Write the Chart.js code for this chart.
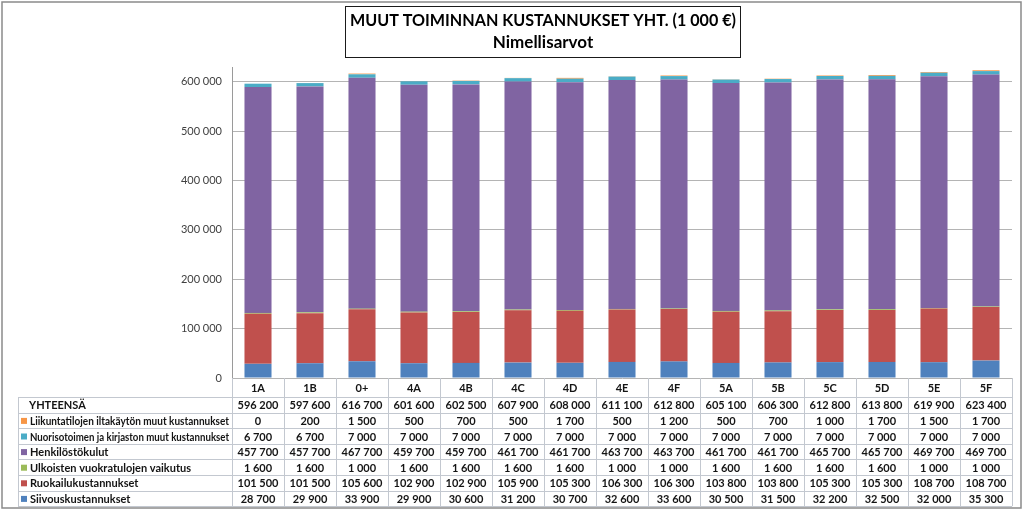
<!DOCTYPE html>
<html>
<head>
<meta charset="utf-8">
<script src="https://cdn.jsdelivr.net/npm/chart.js@4.4.1/dist/chart.umd.min.js"></script>
<style>
  html, body { margin: 0; padding: 0; background: #fff; }
  #wrap { width: 1024px; height: 514px; }
</style>
</head>
<body>
<div id="wrap"><canvas id="myChart" width="1024" height="514"></canvas></div>
<script>
const categories = ['1A', '1B', '0+', '4A', '4B', '4C', '4D', '4E', '4F', '5A', '5B', '5C', '5D', '5E', '5F'];
const siivous = [28700, 29900, 33900, 29900, 30600, 31200, 30700, 32600, 33600, 30500, 31500, 32200, 32500, 32000, 35300];
const ruokailu = [101500, 101500, 105600, 102900, 102900, 105900, 105300, 106300, 106300, 103800, 103800, 105300, 105300, 108700, 108700];
const ulkoiset = [1600, 1600, 1000, 1600, 1600, 1600, 1600, 1000, 1000, 1600, 1600, 1600, 1600, 1000, 1000];
const henkilosto = [457700, 457700, 467700, 459700, 459700, 461700, 461700, 463700, 463700, 461700, 461700, 465700, 465700, 469700, 469700];
const nuoriso = [6700, 6700, 7000, 7000, 7000, 7000, 7000, 7000, 7000, 7000, 7000, 7000, 7000, 7000, 7000];
const liikunta = [0, 200, 1500, 500, 700, 500, 1700, 500, 1200, 500, 700, 1000, 1700, 1500, 1700];
const yhteensa = [596200, 597600, 616700, 601600, 602500, 607900, 608000, 611100, 612800, 605100, 606300, 612800, 613800, 619900, 623400];
const yTicks = [0, 100000, 200000, 300000, 400000, 500000, 600000];

const titleLines = ['MUUT TOIMINNAN KUSTANNUKSET YHT. (1 000 €)', 'Nimellisarvot'];

function fmt(n) {
    return String(n).replace(/\B(?=(\d{3})+(?!\d))/g, ' ');
}

// title box, frame and data table under the plot
const tablePlugin = {
    id: 'tablePlugin',
    afterDraw(chart) {
        const ctx = chart.ctx;
        const x = chart.scales.x;
        const area = chart.chartArea;
        ctx.save();

        // outer frame
        ctx.strokeStyle = '#8a8a8a';
        ctx.lineWidth = 1.5;
        ctx.strokeRect(2, 2, 1019, 506);

        // title
        ctx.fillStyle = '#fff';
        ctx.fillRect(345, 6, 396, 52);
        ctx.strokeStyle = '#1a1a1a';
        ctx.lineWidth = 1;
        ctx.strokeRect(345.5, 6.5, 395, 51);
        ctx.fillStyle = '#000';
        ctx.font = 'bold 17px Lato';
        ctx.textAlign = 'center';
        ctx.textBaseline = 'middle';
        ctx.fillText(titleLines[0], 543, 21, 386);
        ctx.fillText(titleLines[1], 543, 43);

        // table
        const colW = (area.right - area.left) / categories.length;
        const top = area.bottom;
        const headH = 19;
        const rowH = 15.6;
        const tableLeft = 18;
        const rows = [{ label: 'YHTEENSÄ', data: yhteensa, color: null }];
        chart.data.datasets.slice().reverse().forEach(ds => {
            rows.push({ label: ds.label, data: ds.data, color: ds.backgroundColor });
        });
        const bottom = top + headH + rowH * rows.length;

        ctx.strokeStyle = '#c3c8d0';
        ctx.lineWidth = 1;
        ctx.beginPath();
        for (let i = 0; i <= categories.length; i++) {
            const px = Math.round(area.left + i * colW) + 0.5;
            ctx.moveTo(px, top);
            ctx.lineTo(px, bottom);
        }
        ctx.moveTo(tableLeft + 0.5, top + headH);
        ctx.lineTo(tableLeft + 0.5, bottom);
        for (let r = 0; r <= rows.length; r++) {
            const py = Math.round(top + headH + r * rowH) + 0.5;
            ctx.moveTo(tableLeft, py);
            ctx.lineTo(area.right, py);
        }
        ctx.stroke();

        ctx.fillStyle = '#141414';
        ctx.font = 'bold 11px Lato';
        ctx.textAlign = 'center';
        categories.forEach((c, i) => {
            ctx.fillText(c, x.getPixelForValue(i), top + headH / 2 + 1);
        });

        rows.forEach((row, r) => {
            const cy = top + headH + r * rowH + rowH / 2 + 1;
            if (row.color) {
                ctx.fillStyle = row.color;
                ctx.fillRect(21, cy - 3.5, 6, 6);
            }
            ctx.fillStyle = '#141414';
            ctx.textAlign = 'left';
            ctx.fillText(row.label, row.color ? 30 : 29, cy, 199);
            ctx.textAlign = 'center';
            row.data.forEach((v, i) => {
                ctx.fillText(fmt(v), x.getPixelForValue(i), cy, colW - 10);
            });
        });

        ctx.restore();
    }
};

const ctx = document.getElementById('myChart').getContext('2d');
new Chart(ctx, {
    type: 'bar',
    data: {
        labels: categories,
        datasets: [
            { label: 'Siivouskustannukset', data: siivous, backgroundColor: '#4f81bd' },
            { label: 'Ruokailukustannukset', data: ruokailu, backgroundColor: '#c0504d' },
            { label: 'Ulkoisten vuokratulojen vaikutus', data: ulkoiset, backgroundColor: '#9bbb59' },
            { label: 'Henkilöstökulut', data: henkilosto, backgroundColor: '#8064a2' },
            { label: 'Nuorisotoimen ja kirjaston muut kustannukset', data: nuoriso, backgroundColor: '#4bacc6' },
            { label: 'Liikuntatilojen iltakäytön muut kustannukset', data: liikunta, backgroundColor: '#f79646' }
        ]
    },
    options: {
        responsive: false,
        animation: false,
        layout: { padding: { left: 0, right: 12, top: 67, bottom: 136 } },
        categoryPercentage: 1,
        barPercentage: 0.52,
        plugins: {
            legend: { display: false },
            tooltip: { enabled: false },
            title: { display: false }
        },
        scales: {
            x: {
                stacked: true,
                display: false
            },
            y: {
                stacked: true,
                min: 0,
                max: 630000,
                afterFit(scale) { scale.width = 232; },
                afterBuildTicks(scale) { scale.ticks = yTicks.map(v => ({ value: v })); },
                grid: { color: '#b4b4b4', drawTicks: false },
                border: { color: '#9a9a9a' },
                ticks: {
                    padding: 10,
                    color: '#404040',
                    font: { family: 'Lato', size: 11 },
                    callback: v => fmt(v)
                }
            }
        }
    },
    plugins: [tablePlugin]
});
</script>
</body>
</html>
